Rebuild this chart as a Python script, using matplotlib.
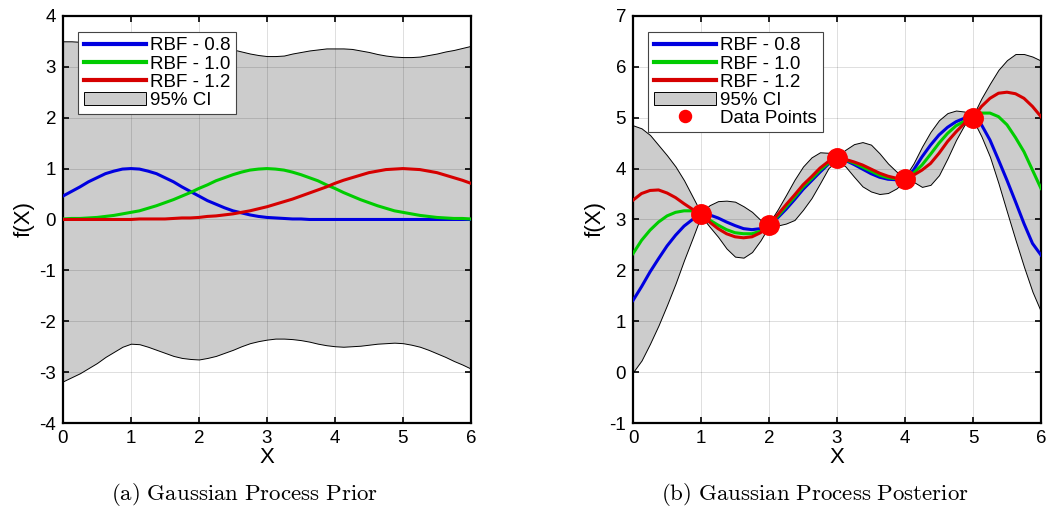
import matplotlib
matplotlib.use("Agg")
import matplotlib.pyplot as plt

plt.rcParams["font.family"] = ["Liberation Sans", "DejaVu Sans"]
plt.rcParams["axes.unicode_minus"] = False
plt.rcParams["mathtext.fontset"] = "cm"

# sample positions along X (every 0.125), shared by both panels
x_grid = [i * 0.125 for i in range(49)]

# --- prior (left panel) ---
prior_08 = [0.46, 0.55, 0.64, 0.74, 0.82, 0.90, 0.95, 0.99, 1.00,
            0.99, 0.95, 0.90, 0.82, 0.74, 0.64, 0.55, 0.46,
            0.37, 0.30, 0.23, 0.17, 0.13, 0.09, 0.06, 0.04,
            0.03, 0.02, 0.01, 0.01, 0.0, 0.0, 0.0, 0.0,
            0.0, 0.0, 0.0, 0.0, 0.0, 0.0, 0.0, 0.0,
            0.0, 0.0, 0.0, 0.0, 0.0, 0.0, 0.0, 0.0]
prior_10 = [0.01, 0.02, 0.02, 0.03, 0.04, 0.06, 0.08, 0.11, 0.14,
            0.17, 0.22, 0.27, 0.33, 0.39, 0.46, 0.53, 0.61,
            0.68, 0.76, 0.82, 0.88, 0.93, 0.97, 0.99, 1.00,
            0.99, 0.97, 0.93, 0.88, 0.82, 0.76, 0.68, 0.61,
            0.53, 0.46, 0.39, 0.33, 0.27, 0.22, 0.17, 0.14,
            0.11, 0.08, 0.06, 0.04, 0.03, 0.02, 0.02, 0.01]
prior_12 = [0.0, 0.0, 0.0, 0.0, 0.0, 0.0, 0.0, 0.0, 0.0,
            0.01, 0.01, 0.01, 0.01, 0.02, 0.03, 0.03, 0.04,
            0.06, 0.07, 0.09, 0.11, 0.14, 0.17, 0.21, 0.25,
            0.30, 0.35, 0.40, 0.46, 0.52, 0.58, 0.64, 0.71,
            0.77, 0.82, 0.87, 0.92, 0.95, 0.98, 0.99, 1.00,
            0.99, 0.98, 0.95, 0.92, 0.87, 0.82, 0.77, 0.71]
prior_upper = [3.50, 3.50, 3.49, 3.49, 3.48, 3.48, 3.47, 3.47, 3.46,
               3.46, 3.45, 3.45, 3.45, 3.44, 3.44, 3.44, 3.43,
               3.42, 3.40, 3.37, 3.34, 3.30, 3.26, 3.23, 3.21,
               3.21, 3.22, 3.26, 3.29, 3.32, 3.34, 3.36, 3.36,
               3.36, 3.35, 3.32, 3.29, 3.25, 3.22, 3.20, 3.19,
               3.19, 3.20, 3.23, 3.26, 3.30, 3.33, 3.37, 3.41]
prior_lower = [-3.18, -3.10, -3.02, -2.92, -2.82, -2.70, -2.60, -2.50, -2.44,
               -2.45, -2.50, -2.56, -2.62, -2.68, -2.72, -2.74, -2.75,
               -2.72, -2.68, -2.62, -2.56, -2.49, -2.43, -2.39, -2.36,
               -2.34, -2.34, -2.35, -2.37, -2.40, -2.44, -2.47, -2.49,
               -2.50, -2.49, -2.48, -2.46, -2.44, -2.43, -2.42, -2.43,
               -2.46, -2.50, -2.56, -2.63, -2.70, -2.78, -2.85, -2.93]

# --- posterior (right panel) ---
post_08 = [1.41, 1.68, 1.97, 2.23, 2.48, 2.69, 2.87, 3.00, 3.10,
           3.09, 3.03, 2.95, 2.88, 2.82, 2.80, 2.82, 2.90,
           3.03, 3.20, 3.39, 3.59, 3.76, 3.93, 4.09, 4.20,
           4.16, 4.08, 3.99, 3.90, 3.83, 3.79, 3.78, 3.80,
           3.97, 4.23, 4.46, 4.66, 4.81, 4.92, 4.99, 5.00,
           4.86, 4.56, 4.17, 3.77, 3.35, 2.92, 2.53, 2.30]
post_10 = [2.33, 2.59, 2.79, 2.95, 3.07, 3.14, 3.17, 3.17, 3.10,
           2.99, 2.89, 2.80, 2.74, 2.72, 2.72, 2.77, 2.90,
           3.06, 3.25, 3.44, 3.64, 3.80, 3.97, 4.11, 4.20,
           4.17, 4.11, 4.03, 3.95, 3.87, 3.82, 3.80, 3.80,
           3.91, 4.07, 4.28, 4.50, 4.69, 4.84, 4.93, 5.00,
           5.09, 5.09, 5.02, 4.86, 4.61, 4.33, 3.97, 3.61]
post_12 = [3.38, 3.51, 3.57, 3.58, 3.52, 3.43, 3.31, 3.20, 3.10,
           2.95, 2.82, 2.72, 2.66, 2.64, 2.66, 2.74, 2.90,
           3.09, 3.29, 3.48, 3.68, 3.84, 4.01, 4.14, 4.20,
           4.18, 4.13, 4.07, 3.99, 3.91, 3.85, 3.81, 3.80,
           3.87, 3.97, 4.10, 4.30, 4.53, 4.72, 4.89, 5.00,
           5.22, 5.38, 5.48, 5.50, 5.47, 5.38, 5.22, 5.02]
post_upper = [4.85, 4.79, 4.66, 4.46, 4.26, 4.04, 3.77, 3.45, 3.13,
              3.28, 3.36, 3.37, 3.35, 3.26, 3.15, 2.99, 2.93,
              3.19, 3.48, 3.78, 4.04, 4.22, 4.32, 4.31, 4.24,
              4.37, 4.48, 4.52, 4.47, 4.30, 4.10, 3.94, 3.84,
              4.10, 4.43, 4.72, 4.95, 5.09, 5.14, 5.12, 5.04,
              5.38, 5.67, 5.94, 6.13, 6.25, 6.25, 6.20, 6.12]
post_lower = [0.00, 0.23, 0.56, 0.92, 1.32, 1.74, 2.20, 2.63, 3.07,
              2.86, 2.66, 2.43, 2.27, 2.25, 2.36, 2.59, 2.87,
              2.88, 2.92, 2.99, 3.19, 3.42, 3.71, 4.01, 4.16,
              4.04, 3.84, 3.65, 3.55, 3.50, 3.52, 3.61, 3.76,
              3.74, 3.64, 3.68, 3.87, 4.20, 4.56, 4.86, 4.96,
              4.63, 4.23, 3.71, 3.15, 2.60, 2.07, 1.58, 1.19]
data_x = [1, 2, 3, 4, 5]
data_y = [3.1, 2.9, 4.2, 3.8, 5.0]

labels = ["RBF - 0.8", "RBF - 1.0", "RBF - 1.2"]
colors = ["#0000e0", "#00cc00", "#d60000"]
FS = 13.5


def style_axes(ax, ylim, yticks):
    ax.set_xlim(0, 6)
    ax.set_ylim(*ylim)
    ax.set_xticks(range(7))
    ax.set_yticks(yticks)
    ax.grid(True, color="black", alpha=0.13, lw=0.7)
    ax.set_axisbelow(False)
    ax.tick_params(direction="in", top=True, right=True, length=4, width=1.2,
                   labelsize=FS, pad=5)
    for s in ax.spines.values():
        s.set_linewidth(1.6)
    ax.set_xlabel("X", fontsize=16, labelpad=0)
    ax.set_ylabel("f(X)", fontsize=16, labelpad=3)


def make_legend(ax, handles, names):
    leg = ax.legend(handles, names, loc="upper left",
                    bbox_to_anchor=(0.037, 0.961), borderaxespad=0,
                    fontsize=FS, handlelength=3.3, handleheight=0.7,
                    labelspacing=0.05, borderpad=0.3, handletextpad=0.25,
                    fancybox=False, framealpha=1, edgecolor="#444444",
                    markerscale=0.62)
    leg.get_frame().set_linewidth(0.8)
    return leg


fig = plt.figure(figsize=(10.46, 5.11), dpi=100)
ax1 = fig.add_axes([0.0602, 0.172, 0.390, 0.797])
ax2 = fig.add_axes([0.6052, 0.172, 0.390, 0.797])

# left: prior
band1 = ax1.fill_between(x_grid, prior_lower, prior_upper, facecolor="#cccccc",
                         edgecolor="black", lw=0.7, zorder=1)
handles = []
for ys, c in zip([prior_08, prior_10, prior_12], colors):
    h, = ax1.plot(x_grid, ys, color=c, lw=2.2, zorder=3)
    handles.append(h)
style_axes(ax1, (-4, 4), range(-4, 5))
leg1 = make_legend(ax1, handles + [band1], labels + ["95% CI"])
for line in leg1.get_lines():
    line.set_linewidth(3.0)

# right: posterior
band2 = ax2.fill_between(x_grid, post_lower, post_upper, facecolor="#cccccc",
                         edgecolor="black", lw=0.7, zorder=1)
handles2 = []
for ys, c in zip([post_08, post_10, post_12], colors):
    h, = ax2.plot(x_grid, ys, color=c, lw=2.2, zorder=3)
    handles2.append(h)
pts, = ax2.plot(data_x, data_y, "o", color="#ff0000", ms=14, ls="none", zorder=4)
style_axes(ax2, (-1, 7), range(-1, 8))
leg2 = make_legend(ax2, handles2 + [band2, pts], labels + ["95% CI", "Data Points"])
for line in leg2.get_lines()[:3]:
    line.set_linewidth(3.0)

fig.text(0.234, 0.033, r"$\mathrm{(a)\ Gaussian\ Process\ Prior}$",
         ha="center", va="center", fontsize=16.5)
fig.text(0.779, 0.033, r"$\mathrm{(b)\ Gaussian\ Process\ Posterior}$",
         ha="center", va="center", fontsize=16.5)

fig.savefig("out.png", dpi=100)
